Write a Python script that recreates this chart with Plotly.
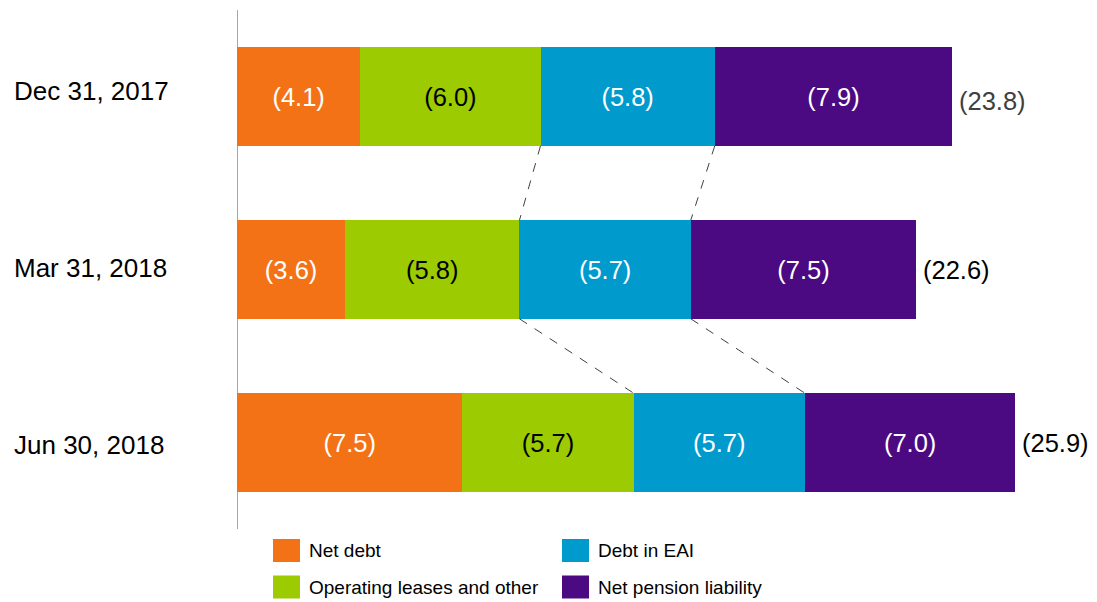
import plotly.graph_objects as go

categories = ["Dec 31, 2017", "Mar 31, 2018", "Jun 30, 2018"]
series_names = ["Net debt", "Operating leases and other", "Debt in EAI", "Net pension liability"]
net_debt = [4.1, 3.6, 7.5]
op_leases = [6.0, 5.8, 5.7]
debt_eai = [5.8, 5.7, 5.7]
pension = [7.9, 7.5, 7.0]
totals = [23.8, 22.6, 25.9]

colors = ["#F47216", "#9BCB00", "#009ACD", "#4B0A82"]
text_colors = ["white", "black", "white", "white"]
total_colors = ["#404040", "black", "black"]
total_yshift = [-4, 0, 0]
label_yshift = [6, 2, -2.5]
series = [net_debt, op_leases, debt_eai, pension]

FONT = "Liberation Sans, Arial, sans-serif"
OFF = 8  # default page body margin
W, H = 1097 - OFF, 602 - OFF
PAGE_L, PAGE_T, PAGE_B = 237, 10, 529
ML = PAGE_L - OFF
MT = PAGE_T - OFF
MB = H - (PAGE_B - OFF)
MR = 4
BARW = 0.57
PXU = 30.05  # pixels per unit
pw = W - ML - MR
ph = H - MT - MB
XMAX = pw / PXU

fig = go.Figure()
ypos = list(range(len(categories)))
for name, vals, col, tc in zip(series_names, series, colors, text_colors):
    fig.add_trace(go.Bar(
        y=ypos, x=vals, orientation="h", name=name,
        marker=dict(color=col, line=dict(width=0)),
        width=BARW,
        text=[f"({v:.1f})" for v in vals],
        textposition="inside", insidetextanchor="middle",
        textfont=dict(family=FONT, size=25.5, color=tc),
        constraintext="none",
        showlegend=False, hoverinfo="skip",
    ))

# totals
for i, t in enumerate(totals):
    fig.add_annotation(x=t, y=i, xref="x", yref="y", text=f"({t:.1f})",
                       showarrow=False, xanchor="left", xshift=5,
                       yshift=total_yshift[i],
                       font=dict(family=FONT, size=25.5, color=total_colors[i]))

def px_to_paper_x(px):
    return (px - OFF - ML) / pw
def px_to_paper_y(py):
    return 1 - (py - OFF - MT) / ph

# category labels
for i, c in enumerate(categories):
    fig.add_annotation(x=px_to_paper_x(12), y=i, xref="paper", yref="y", text=c,
                       showarrow=False, xanchor="left", yshift=label_yshift[i],
                       font=dict(family=FONT, size=26, color="black"))

# dashed connectors between left edges of Debt in EAI and Net pension
starts_eai = [n + o for n, o in zip(net_debt, op_leases)]
starts_pen = [s + d for s, d in zip(starts_eai, debt_eai)]
for i in range(len(categories) - 1):
    for starts in (starts_eai, starts_pen):
        fig.add_shape(type="line", xref="x", yref="y",
                      x0=starts[i], y0=i + BARW / 2,
                      x1=starts[i + 1], y1=i + 1 - BARW / 2,
                      line=dict(color="#404040", width=1, dash="dash"))

# legend (manual)
legend_items = [
    (series_names[0], colors[0], 273, 550.5),
    (series_names[2], colors[2], 562, 550.5),
    (series_names[1], colors[1], 273, 587),
    (series_names[3], colors[3], 562, 587),
]
for name, col, lx, ly in legend_items:
    fig.add_shape(type="rect", xref="paper", yref="paper",
                  x0=px_to_paper_x(lx), x1=px_to_paper_x(lx + 27),
                  y0=px_to_paper_y(ly - 11.5), y1=px_to_paper_y(ly + 11.5),
                  fillcolor=col, line=dict(width=0))
    fig.add_annotation(x=px_to_paper_x(lx + 34), y=px_to_paper_y(ly),
                       xref="paper", yref="paper", text=name, showarrow=False,
                       xanchor="left", yanchor="middle",
                       font=dict(family=FONT, size=19, color="black"))

fig.update_layout(
    barmode="stack",
    width=W, height=H,
    margin=dict(l=ML, r=MR, t=MT, b=MB, pad=0),
    plot_bgcolor="white", paper_bgcolor="white",
    xaxis=dict(range=[0, XMAX], visible=False, fixedrange=True),
    yaxis=dict(range=[len(categories) - 0.5, -0.5], showticklabels=False,
               showgrid=False, zeroline=False, ticks="",
               showline=False, fixedrange=True),
    showlegend=False,
    font=dict(family=FONT),
)
# vertical axis line at x=0
fig.add_shape(type="line", xref="x", yref="paper", x0=0, x1=0, y0=0, y1=1,
              line=dict(color="#A6A6A6", width=2), layer="below")

fig.write_html("out.html")
